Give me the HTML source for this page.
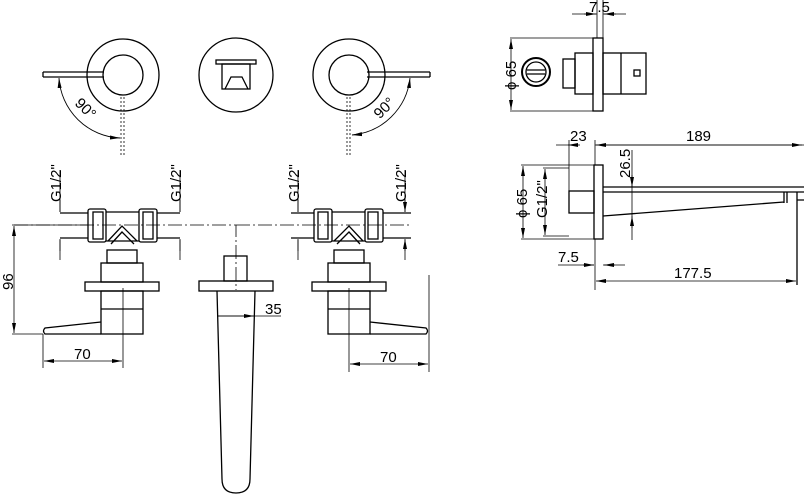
<!DOCTYPE html>
<html><head><style>html,body{margin:0;padding:0;background:#fff}svg{display:block}text{font-family:"Liberation Sans",sans-serif;fill:#000}</style></head><body>
<svg width="804" height="494" viewBox="0 0 804 494" xmlns="http://www.w3.org/2000/svg">
<defs>
<marker id="a" viewBox="0 0 10 6" refX="10" refY="3" markerWidth="10" markerHeight="6" orient="auto-start-reverse" markerUnits="userSpaceOnUse"><path d="M0,1 L10,3 L0,5z" fill="#000"/></marker>
</defs>
<g fill="none" stroke="#000" stroke-width="1.3">
<circle cx="123" cy="75" r="36"/><circle cx="123" cy="75" r="20"/>
<path d="M43,72 H104 M43,77 H104 M43,72 V77"/>
<circle cx="236" cy="75" r="37"/>
<rect x="216" y="60" width="40" height="4"/><rect x="222" y="64" width="28" height="25"/>
<path d="M225,89 L231,77 H242 L248,89"/>
<circle cx="349" cy="75" r="36"/><circle cx="349" cy="75" r="20"/>
<path d="M367,72 H430 M367,77 H430 M430,72 V77"/>
<path d="M121,97 V155 M124,97 V155 M347,97 V155 M350,97 V155" stroke-dasharray="2,2" stroke-width="0.8"/>
<path d="M59,78 A64,64 0 0 0 120,138" stroke-width="0.9" marker-start="url(#a)" marker-end="url(#a)"/>
<path d="M410,78 A64,64 0 0 1 352,135" stroke-width="0.9" marker-start="url(#a)" marker-end="url(#a)"/>
<path d="M14,225 H236 V290 M236,225 H410" stroke-dasharray="14,3,2,3" stroke-width="0.8"/>
<g id="v">
<rect x="88" y="209" width="18" height="33" rx="2"/><rect x="93" y="212" width="10" height="27"/>
<rect x="139" y="209" width="18" height="33" rx="2"/><rect x="143" y="212" width="10" height="27"/>
<path d="M106,212 H139 M106,241 H139 M60,213 H88 M60,238 H88 M157,213 H180 M157,238 H180"/>
<path d="M108,241 L122,226 L137,241 M111,244 L122,232 L134,244"/>
<rect x="107" y="250" width="30" height="13"/>
<rect x="101" y="263" width="42" height="19"/>
<rect x="85" y="282" width="74" height="9"/>
<rect x="101" y="291" width="42" height="43"/>
<path d="M101,309 H143 M101,334 H45 Q42,331 45,328 L101,322"/>
</g>
<use href="#v" transform="translate(471,0) scale(-1,1)"/>
<path d="M12,225 H88 M12,334 H43" stroke-width="0.8"/>
<path d="M14,226 V333" stroke-width="0.8" marker-start="url(#a)" marker-end="url(#a)"/>
<path d="M60,170 V212 M60,240 V260 M180,170 V212 M180,240 V260 M298,170 V212 M298,240 V260 M405,170 V212 M405,240 V260" stroke-width="0.8"/>
<path d="M60,200 V212 M180,200 V212 M298,200 V212 M405,200 V212" stroke-width="0.8" marker-end="url(#a)"/>
<path d="M60,251 V239 M180,251 V239 M298,251 V239 M405,251 V239" stroke-width="0.8" marker-end="url(#a)"/>
<path d="M123,288 V368 M43,334 V368 M349,288 V372 M429,275 V372" stroke-width="0.8"/>
<path d="M44,361 H122" stroke-width="0.8" marker-start="url(#a)" marker-end="url(#a)"/>
<path d="M350,364 H428" stroke-width="0.8" marker-start="url(#a)" marker-end="url(#a)"/>
<rect x="224" y="256" width="23" height="25"/>
<rect x="199" y="281" width="74" height="10"/>
<path d="M217,291 L222,479 Q222,493 236,493 Q250,493 250,479 L255,291"/>
<path d="M218,316 H254 M254,316 H281" stroke-width="0.8"/>
<path d="M236,316 H218 M236,316 H254" stroke-width="0.8" marker-end="url(#a)"/>
<rect x="593" y="38" width="10" height="73"/>
<path d="M597,38 V0 M603,38 V0 M510,38 H593 M510,111 H593" stroke-width="0.8"/>
<path d="M511,39 V110" stroke-width="0.8" marker-start="url(#a)" marker-end="url(#a)"/>
<path d="M572,14 H597 M603,14 H626" stroke-width="0.8"/>
<path d="M584,14 H596" stroke-width="0.8" marker-end="url(#a)"/>
<path d="M616,14 H604" stroke-width="0.8" marker-end="url(#a)"/>
<rect x="603" y="53" width="43" height="41"/><path d="M621,53 V94"/>
<rect x="634" y="70" width="6" height="6"/>
<rect x="575" y="53" width="18" height="41"/>
<rect x="563" y="59" width="12" height="29"/>
<circle cx="536" cy="72" r="14" stroke-width="2"/><circle cx="536" cy="72" r="10"/>
<path d="M527,70 H545 M527,74 H545"/>
<rect x="594" y="165" width="9" height="74"/>
<rect x="569" y="191" width="25" height="22"/>
<path d="M603,187 H804 M603,192 H804 M603,216 L784,202 M784,192 V203 M787,192 V203 M797,192 V285 M797,200 H804"/>
<path d="M521,165 H594 M521,239 H594 M543,168 H569 M543,236 H569 M569,140 V191 M595,140 V165 M595,239 V290" stroke-width="0.8"/>
<path d="M523,166 V238" stroke-width="0.8" marker-start="url(#a)" marker-end="url(#a)"/>
<path d="M545,169 V235" stroke-width="0.8" marker-start="url(#a)" marker-end="url(#a)"/>
<path d="M556,145 H569 M595,145 H804" stroke-width="0.8"/>
<path d="M596,145 H802" stroke-width="0.8" marker-start="url(#a)" marker-end="url(#a)"/>
<path d="M580,145 H568" stroke-width="0.8" marker-end="url(#a)"/>
<path d="M632,150 V240" stroke-width="0.8"/>
<path d="M632,175 V187" stroke-width="0.8" marker-end="url(#a)"/>
<path d="M632,228 V216" stroke-width="0.8" marker-end="url(#a)"/>
<path d="M558,265 H594 M603,265 H625" stroke-width="0.8"/>
<path d="M583,265 H594" stroke-width="0.8" marker-end="url(#a)"/>
<path d="M615,265 H604" stroke-width="0.8" marker-end="url(#a)"/>
<path d="M596,281 H796" stroke-width="0.8" marker-start="url(#a)" marker-end="url(#a)"/>
</g>
<g font-size="15">
<text transform="translate(74,104) rotate(45)">90°</text>
<text x="370" y="112" transform="rotate(-45 384 104)">90°</text>
<text transform="translate(61,202) rotate(-90)">G1/2"</text>
<text transform="translate(181,202) rotate(-90)">G1/2"</text>
<text transform="translate(299,202) rotate(-90)">G1/2"</text>
<text transform="translate(406,202) rotate(-90)">G1/2"</text>
<text transform="translate(13,290) rotate(-90)">96</text>
<text x="74" y="359">70</text>
<text x="380" y="362">70</text>
<text x="265" y="314">35</text>
<text x="589" y="12">7.5</text>
<text transform="translate(516,90) rotate(-90)">ϕ 65</text>
<text x="570" y="141">23</text>
<text x="686" y="141">189</text>
<text transform="translate(630,178) rotate(-90)">26.5</text>
<text transform="translate(527,218) rotate(-90)">ϕ 65</text>
<text transform="translate(547,218) rotate(-90)">G1/2"</text>
<text x="558" y="262">7.5</text>
<text x="674" y="278">177.5</text>
</g>
</svg>
</body></html>
